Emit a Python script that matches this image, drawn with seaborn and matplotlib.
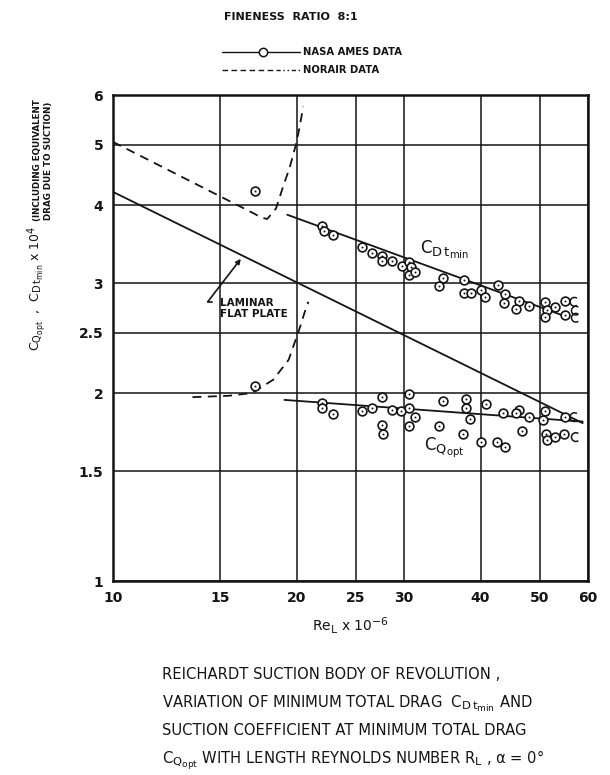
import matplotlib
matplotlib.use('Agg')
import matplotlib.pyplot as plt
import matplotlib._mathtext as _mt
import seaborn as sns
import numpy as np
from matplotlib.lines import Line2D
from matplotlib.path import Path

_mt.SHRINK_FACTOR = 0.78

# ---------------- data ----------------
# NASA Ames data, C_Dt_min
cd_x = [22.0, 22.2, 22.9, 25.6, 26.6, 27.6, 27.6, 28.7, 29.7, 30.6, 30.8, 30.5, 31.3,
        34.7, 34.2, 37.6, 37.6, 38.6, 40.1, 40.7, 42.8, 43.9, 43.7, 46.2, 45.7, 48.0,
        51.0, 51.4, 52.9, 51.0, 55.1, 55.1]
cd_y = [3.70, 3.63, 3.58, 3.43, 3.35, 3.31, 3.25, 3.26, 3.19, 3.24, 3.18, 3.09, 3.12,
        3.06, 2.97, 3.03, 2.89, 2.89, 2.92, 2.85, 2.98, 2.88, 2.79, 2.81, 2.73, 2.76,
        2.80, 2.72, 2.75, 2.65, 2.81, 2.67]
# NASA Ames data, C_Q_opt
cq_x = [22.0, 22.0, 22.9, 25.6, 26.6, 27.6, 27.6, 27.7, 28.7, 29.6, 30.5, 30.6, 31.2,
        30.5, 34.7, 34.2, 37.8, 37.8, 38.5, 37.5, 40.1, 40.9, 42.6, 43.9, 43.6, 46.2,
        45.7, 48.0, 46.7, 51.0, 50.6, 51.2, 51.4, 52.9, 55.1, 54.9]
cq_y = [1.93, 1.89, 1.85, 1.87, 1.89, 1.97, 1.78, 1.72, 1.88, 1.87, 1.99, 1.89, 1.83,
        1.77, 1.94, 1.77, 1.96, 1.89, 1.82, 1.72, 1.67, 1.92, 1.67, 1.64, 1.86, 1.88,
        1.86, 1.83, 1.74, 1.87, 1.81, 1.72, 1.68, 1.70, 1.83, 1.72]
# partly printed points at the right edge
part_x = [57.0, 57.3, 57.3, 57.0, 57.3]
part_y = [2.80, 2.71, 2.64, 1.83, 1.70]
# isolated NASA points
iso_x = [17.1, 17.1]
iso_y = [4.22, 2.05]
# faired lines
fit_cd_x = [19.3, 55.3]
fit_cd_y = [3.86, 2.65]
fit_cq_x = [19.1, 58.8]
fit_cq_y = [1.95, 1.80]
plate_x = [10.0, 58.8]
plate_y = [4.20, 1.79]
# Norair data curves
nor_cd_x = [10.0, 17.0, 17.5, 17.9, 18.5, 19.0, 19.5, 19.9, 20.2, 20.5]
nor_cd_y = [5.05, 3.88, 3.82, 3.80, 3.95, 4.28, 4.61, 4.96, 5.30, 5.75]
nor_cq_x = [13.5, 15.5, 16.9, 18.3, 19.4, 20.2, 20.6, 20.9]
nor_cq_y = [1.97, 1.98, 2.00, 2.10, 2.26, 2.53, 2.69, 2.80]

x_ticks = [10, 15, 20, 25, 30, 40, 50, 60]
x_labels = ['10', '15', '20', '25', '30', '40', '50', '60']
y_ticks = [1, 1.5, 2, 2.5, 3, 4, 5, 6]
y_labels = ['1', '1.5', '2', '2.5', '3', '4', '5', '6']

# ---------------- figure ----------------
sns.set_theme(style='white')
plt.rcParams['font.family'] = ['DejaVu Sans']
plt.rcParams['mathtext.default'] = 'regular'
INK = '#141414'
BOLDF = ['Liberation Sans Narrow', 'DejaVu Sans']

fig = plt.figure(figsize=(6.10, 7.75), dpi=100)
ax = fig.add_axes([0.185, 0.2503, 0.779, 0.627])
ax.set_xscale('log')
ax.set_yscale('log')
ax.set_xlim(10, 60)
ax.set_ylim(1, 6)

ax.set_xticks(x_ticks)
ax.set_xticklabels(x_labels)
ax.set_yticks(y_ticks)
ax.set_yticklabels(y_labels)
ax.minorticks_off()
ax.tick_params(length=0, pad=7, labelsize=10, colors=INK)
for lab in ax.get_xticklabels() + ax.get_yticklabels():
    lab.set_family(BOLDF)
    lab.set_fontweight('bold')
ax.grid(True, color=INK, lw=1.1)
for s in ax.spines.values():
    s.set_color(INK)
    s.set_linewidth(1.8)

# lines
sns.lineplot(x=plate_x, y=plate_y, ax=ax, color=INK, lw=1.3, sort=False, estimator=None)
sns.lineplot(x=fit_cd_x, y=fit_cd_y, ax=ax, color=INK, lw=1.3, sort=False, estimator=None)
sns.lineplot(x=fit_cq_x, y=fit_cq_y, ax=ax, color=INK, lw=1.3, sort=False, estimator=None)
sns.lineplot(x=nor_cd_x, y=nor_cd_y, ax=ax, color=INK, lw=1.3, sort=False, estimator=None,
             linestyle=(0, (5, 3.5)))
sns.lineplot(x=nor_cq_x, y=nor_cq_y, ax=ax, color=INK, lw=1.3, sort=False, estimator=None,
             linestyle=(0, (5, 3.5)))

# points
allx = cd_x + cq_x + iso_x
ally = cd_y + cq_y + iso_y
sns.scatterplot(x=allx, y=ally, ax=ax, marker='o', s=40, facecolors='white',
                edgecolors=INK, linewidth=1.2, zorder=5)
sns.scatterplot(x=allx, y=ally, ax=ax, marker='o', s=2, color=INK, linewidth=0, zorder=6)
arc = Path.arc(55, 305)
sns.scatterplot(x=part_x, y=part_y, ax=ax, marker=arc, s=40, facecolors='none',
                edgecolors=INK, linewidth=1.1, zorder=5)

# curve labels
ax.text(31.9, 3.39, r'$C_{D\,t_{min}}$', fontsize=12, color=INK, va='center', ha='left')
ax.text(32.3, 1.64, r'$C_{Q_{opt}}$', fontsize=12, color=INK, va='center', ha='left')
ax.text(15.0, 2.73, 'LAMINAR\nFLAT PLATE', fontsize=7.5, color=INK, va='center', ha='left',
        family=BOLDF, fontweight='bold', linespacing=1.15)
ax.plot([14.55, 14.3], [2.80, 2.80], color=INK, lw=1.2)
ax.annotate('', xy=(16.2, 3.28), xytext=(14.3, 2.80),
            arrowprops=dict(arrowstyle='-|>', color=INK, lw=1.2, mutation_scale=7,
                            shrinkA=0, shrinkB=0))

# axis labels
ax.set_xlabel(r'$Re_L$ x $10^{-6}$', fontsize=10, color=INK, labelpad=8)
fig.text(0.061, 0.628, r'$C_{Q_{opt}}$  ,  $C_{D\,t_{min}}$ x $10^4$', rotation=90,
         ha='center', va='center', fontsize=9.0, color=INK)
fig.text(0.061, 0.793, '(INCLUDING EQUIVALENT', rotation=90, ha='center', va='center',
         fontsize=6.3, color=INK, family=BOLDF, fontweight='bold')
fig.text(0.079, 0.793, 'DRAG DUE TO SUCTION)', rotation=90, ha='center', va='center',
         fontsize=6.3, color=INK, family=BOLDF, fontweight='bold')

# header and legend
fig.text(0.476, 0.978, 'FINENESS  RATIO  8:1', ha='center', va='center', fontsize=8.0,
         color=INK, family=BOLDF, fontweight='bold')
fig.add_artist(Line2D([0.364, 0.492], [0.933, 0.933], color=INK, lw=1.0))
fig.add_artist(Line2D([0.431], [0.933], marker='o', ms=6, mfc='white', mec=INK, mew=1.1))
fig.add_artist(Line2D([0.364, 0.450], [0.910, 0.910], color=INK, lw=1.0, linestyle=(0, (4, 2.5))))
fig.add_artist(Line2D([0.452, 0.492], [0.910, 0.910], color=INK, lw=1.0, linestyle=(0, (3, 2, 1, 2, 1, 2))))
fig.text(0.497, 0.933, 'NASA AMES DATA', ha='left', va='center', fontsize=7.2, color=INK,
         family=BOLDF, fontweight='bold')
fig.text(0.497, 0.910, 'NORAIR DATA', ha='left', va='center', fontsize=7.2, color=INK,
         family=BOLDF, fontweight='bold')

# caption
cap = [
    'REICHARDT SUCTION BODY OF REVOLUTION ,',
    r'VARIATION OF MINIMUM TOTAL DRAG  $C_{D\,t_{min}}$ AND',
    'SUCTION COEFFICIENT AT MINIMUM TOTAL DRAG',
    r'$C_{Q_{opt}}$ WITH LENGTH REYNOLDS NUMBER $R_L$ , α = 0°',
]
cap_y = [0.1239, 0.0877, 0.0516, 0.0155]
for t, yy in zip(cap, cap_y):
    fig.text(0.2656, yy, t, ha='left', va='baseline', fontsize=10.6, color=INK)

fig.savefig('out.png', dpi=100, facecolor='white')
